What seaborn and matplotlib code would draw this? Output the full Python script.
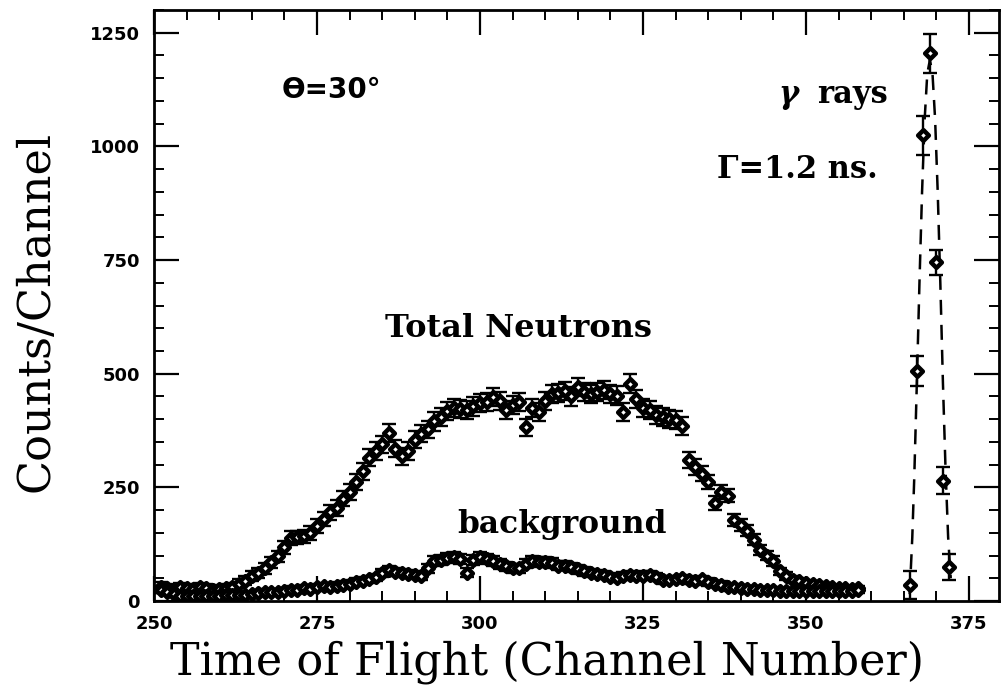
import numpy as np
import pandas as pd
import matplotlib
matplotlib.use("Agg")
import matplotlib.pyplot as plt
from matplotlib.ticker import MultipleLocator
import seaborn as sns

# ---------------- data ----------------
channels = list(range(251, 359))

total_counts = [30, 28, 25, 30, 28, 27, 30, 28, 25, 27,
                28, 30, 38, 45, 55, 62, 72, 85, 98, 118,
                138, 140, 142, 150, 165, 180, 195, 205, 225, 240,
                262, 285, 315, 330, 345, 370, 335, 318, 330, 355,
                368, 378, 395, 405, 418, 425, 422, 420, 428, 435,
                438, 448, 440, 420, 432, 438, 382, 425, 415, 440,
                455, 458, 462, 450, 470, 460, 455, 460, 464, 455,
                452, 415, 478, 445, 425, 420, 410, 405, 400, 398,
                385, 310, 295, 280, 262, 215, 240, 232, 178, 168,
                155, 135, 112, 100, 88, 65, 55, 47, 43, 40,
                38, 35, 32, 30, 29, 28, 27, 28]

total_err = [12, 9, 9, 9, 9, 9, 9, 9, 9, 9,
             9, 9, 10, 10, 11, 11, 12, 12, 13, 14,
             15, 15, 15, 15, 16, 16, 16, 17, 17, 17,
             18, 18, 19, 19, 19, 20, 19, 19, 19, 19,
             19, 19, 20, 20, 20, 20, 20, 20, 20, 20,
             20, 20, 20, 20, 20, 20, 19, 20, 20, 20,
             20, 20, 20, 20, 20, 20, 20, 20, 20, 20,
             20, 20, 21, 20, 20, 20, 20, 20, 20, 20,
             19, 18, 17, 17, 16, 15, 15, 15, 13, 13,
             12, 12, 11, 10, 10, 8, 8, 7, 7, 6,
             6, 6, 6, 5, 5, 5, 5, 5]

background_counts = [25, 20, 15, 12, 12, 10, 12, 10, 12, 12,
                     13, 14, 13, 14, 15, 18, 20, 20, 20, 22,
                     25, 24, 28, 27, 30, 32, 30, 34, 36, 38,
                     42, 45, 48, 52, 62, 68, 64, 62, 60, 58,
                     55, 72, 88, 90, 95, 96, 92, 62, 90, 96,
                     92, 88, 82, 76, 72, 72, 82, 88, 85, 86,
                     84, 78, 78, 74, 70, 65, 62, 60, 58, 52,
                     50, 55, 58, 55, 56, 57, 52, 46, 47, 48,
                     50, 46, 44, 48, 42, 38, 36, 30, 30, 28,
                     27, 26, 25, 24, 24, 22, 22, 23, 22, 22,
                     22, 22, 23, 22, 22, 22, 23, 24]

background_err = [8, 7, 6, 5, 5, 5, 5, 5, 5, 5,
                  5, 5, 5, 5, 5, 6, 6, 6, 6, 6,
                  7, 7, 7, 7, 7, 7, 7, 7, 8, 8,
                  8, 8, 8, 8, 9, 9, 9, 9, 9, 9,
                  9, 10, 11, 11, 11, 11, 11, 10, 11, 11,
                  11, 11, 11, 10, 10, 10, 10, 11, 11, 11,
                  11, 10, 10, 10, 10, 9, 9, 9, 9, 9,
                  9, 9, 9, 9, 9, 9, 9, 8, 8, 8,
                  8, 8, 8, 8, 8, 7, 7, 7, 7, 7,
                  6, 6, 6, 6, 6, 6, 6, 6, 6, 6,
                  6, 6, 6, 6, 6, 6, 6, 6]

gamma_channels = [366, 367, 368, 369, 370, 371, 372]
gamma_counts = [35, 506, 1024, 1205, 745, 265, 75]
gamma_err = [30, 33, 43, 43, 28, 30, 28]

fit_x = [365.9, 366.3, 366.6, 367.0, 367.4, 367.8, 368.2, 368.6, 369.0,
         369.4, 369.8, 370.2, 370.6, 371.0, 371.4, 371.8, 372.2]
fit_y = [15, 140, 270, 480, 700, 900, 1060, 1160, 1190,
         1160, 1060, 900, 700, 480, 290, 140, 50]

x_ticks = [250, 275, 300, 325, 350, 375]
y_ticks = [0, 250, 500, 750, 1000, 1250]

# ---------------- figure ----------------
sns.set_theme(style="ticks")
plt.rcParams["font.family"] = ["DejaVu Sans"]
plt.rcParams["text.color"] = "black"

W, H = 1003, 688
fig = plt.figure(figsize=(W / 100, H / 100), dpi=100)
ax = fig.add_axes([154 / W, 1 - 601 / H, (999 - 154) / W, (601 - 10) / H])

df_tot = pd.DataFrame({"ch": channels, "counts": total_counts, "err": total_err})
df_bg = pd.DataFrame({"ch": channels, "counts": background_counts, "err": background_err})
df_g = pd.DataFrame({"ch": gamma_channels, "counts": gamma_counts, "err": gamma_err})
df_fit = pd.DataFrame({"ch": fit_x, "counts": fit_y})

sns.lineplot(data=df_fit, x="ch", y="counts", ax=ax, color="black",
             linewidth=1.8, linestyle=(0, (6, 4)), sort=False, zorder=2)

for df in (df_tot, df_bg, df_g):
    ax.errorbar(df["ch"], df["counts"], yerr=df["err"], fmt="none",
                ecolor="black", elinewidth=1.7, capsize=5, capthick=1.7, zorder=3)
    sns.scatterplot(data=df, x="ch", y="counts", ax=ax, marker="D", s=30,
                    color="white", edgecolor="black", linewidth=3.2, zorder=4)

ax.set_xlim(250, 379.6)
ax.set_ylim(0, 1300)
ax.set_xticks(x_ticks)
ax.set_yticks(y_ticks)
ax.xaxis.set_minor_locator(MultipleLocator(5))
ax.yaxis.set_minor_locator(MultipleLocator(50))
ax.tick_params(which="both", direction="in", top=True, right=True, colors="black")
ax.tick_params(which="major", length=18, width=1.6, labelsize=13, pad=10)
ax.tick_params(which="minor", length=7, width=1.4)
for lab in ax.get_xticklabels() + ax.get_yticklabels():
    lab.set_fontweight("bold")
for sp in ax.spines.values():
    sp.set_linewidth(2)
    sp.set_color("black")
ax.set_xlabel("")
ax.set_ylabel("")

serif = ["DejaVu Serif"]
fig.text(170 / W, 1 - 675 / H, "Time of Flight (Channel Number)", family=serif,
         fontsize=32, ha="left", va="baseline", color="black")
fig.text(36 / W, 1 - 311 / H, "Counts/Channel", family=serif, fontsize=32,
         rotation=90, ha="center", va="center", color="black")

ax.text(285.4, 581, "Total Neutrons", family=serif, fontsize=23,
        fontweight="bold", ha="left", va="baseline", color="black")
ax.text(296.5, 150, "background", family=serif, fontsize=22.5,
        fontweight="bold", ha="left", va="baseline", color="black")
ax.text(269.6, 1106, "ϴ=30°", fontsize=20, fontweight="bold",
        ha="left", va="baseline", color="black")
ax.text(345.7, 1096, "γ", family=serif, fontsize=22, fontstyle="italic",
        fontweight="bold", ha="left", va="baseline", color="black")
ax.text(351.7, 1096, "rays", family=serif, fontsize=22, fontweight="bold",
        ha="left", va="baseline", color="black")
ax.text(336.3, 930, "Γ=1.2 ns.", family=serif, fontsize=22, fontweight="bold",
        ha="left", va="baseline", color="black")

fig.savefig("out.png", dpi=100)
